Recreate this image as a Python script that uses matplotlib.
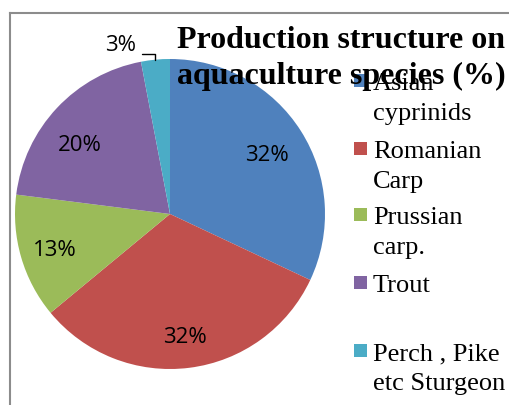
import matplotlib.pyplot as plt
from matplotlib.patches import Rectangle
from matplotlib.lines import Line2D
import numpy as np

species = ["Asian\ncyprinids", "Romanian\nCarp", "Prussian\ncarp.", "Trout", "Perch , Pike\netc Sturgeon"]
share = [32, 32, 13, 20, 3]
colors = ["#4F81BD", "#C0504D", "#9BBB59", "#8064A2", "#4BACC6"]

# label placement inside the slices: radius (fraction of r) and angle nudge (deg)
label_r = [0.74, 0.79, 0.775, 0.74]
label_nudge = [0, 0, 0, 5]

W, H = 510, 405
fig = plt.figure(figsize=(W / 100, H / 100), dpi=100)

# pie area: centre (170, 214) px, radius 155 px
cx, cy, r = 170, 214, 155
ax = fig.add_axes([(cx - r) / W, (H - cy - r) / H, 2 * r / W, 2 * r / H])
wedges, texts, autotexts = ax.pie(
    share, colors=colors, startangle=90, counterclock=False,
    autopct="%d%%", pctdistance=0.76,
    textprops=dict(family="Open Sans", fontsize=16, color="black"),
    wedgeprops=dict(linewidth=0),
)
ax.set_aspect("equal")
ax.set_xlim(-1, 1)
ax.set_ylim(-1, 1)

for w, t, d, nud in zip(wedges, autotexts, label_r, label_nudge):
    a = np.deg2rad((w.theta1 + w.theta2) / 2 + nud)
    t.set_position((d * np.cos(a), d * np.sin(a)))
    t.set_va("center_baseline")

# small slice: label outside with an elbow leader
autotexts[-1].set_visible(False)
w = wedges[-1]
mid = np.deg2rad((w.theta1 + w.theta2) / 2)
ax.annotate(f"{share[-1]}%", xy=(np.cos(mid), np.sin(mid)),
            xytext=(-25, 12), textcoords="offset points",
            ha="center", va="center_baseline", family="Open Sans", fontsize=16,
            annotation_clip=False,
            arrowprops=dict(arrowstyle="-", color="black", lw=1,
                            connectionstyle="angle,angleA=0,angleB=90,rad=0",
                            relpos=(1.0, 0.1), shrinkA=2, shrinkB=0))

# outer frame (only top and left edges visible)
fig.add_artist(Line2D([10 / W, 10 / W], [0, 1 - 13 / H], color="#8c8c8c", lw=1.5,
                      transform=fig.transFigure))
fig.add_artist(Line2D([10 / W, 1], [1 - 13 / H, 1 - 13 / H], color="#8c8c8c", lw=1.5,
                      transform=fig.transFigure))

# legend
base = [90, 158, 224, 292, 360]
for lab, col, b in zip(species, colors, base):
    fig.add_artist(Rectangle((354 / W, 1 - (b - 3) / H), 13 / W, 13 / H,
                             facecolor=col, edgecolor="none", transform=fig.transFigure))
    for i, line in enumerate(lab.split("\n")):
        fig.text(373 / W, 1 - (b + 30 * i) / H, line, family="Liberation Serif",
                 fontsize=19, va="baseline", ha="left")

# title
fig.text(341 / W, 1 - 48 / H, "Production structure on", family="Liberation Serif",
         fontsize=23, fontweight="bold", ha="center", va="baseline")
fig.text(341 / W, 1 - 84 / H, "aquaculture species (%)", family="Liberation Serif",
         fontsize=23, fontweight="bold", ha="center", va="baseline")

fig.savefig("out.png", dpi=100)
